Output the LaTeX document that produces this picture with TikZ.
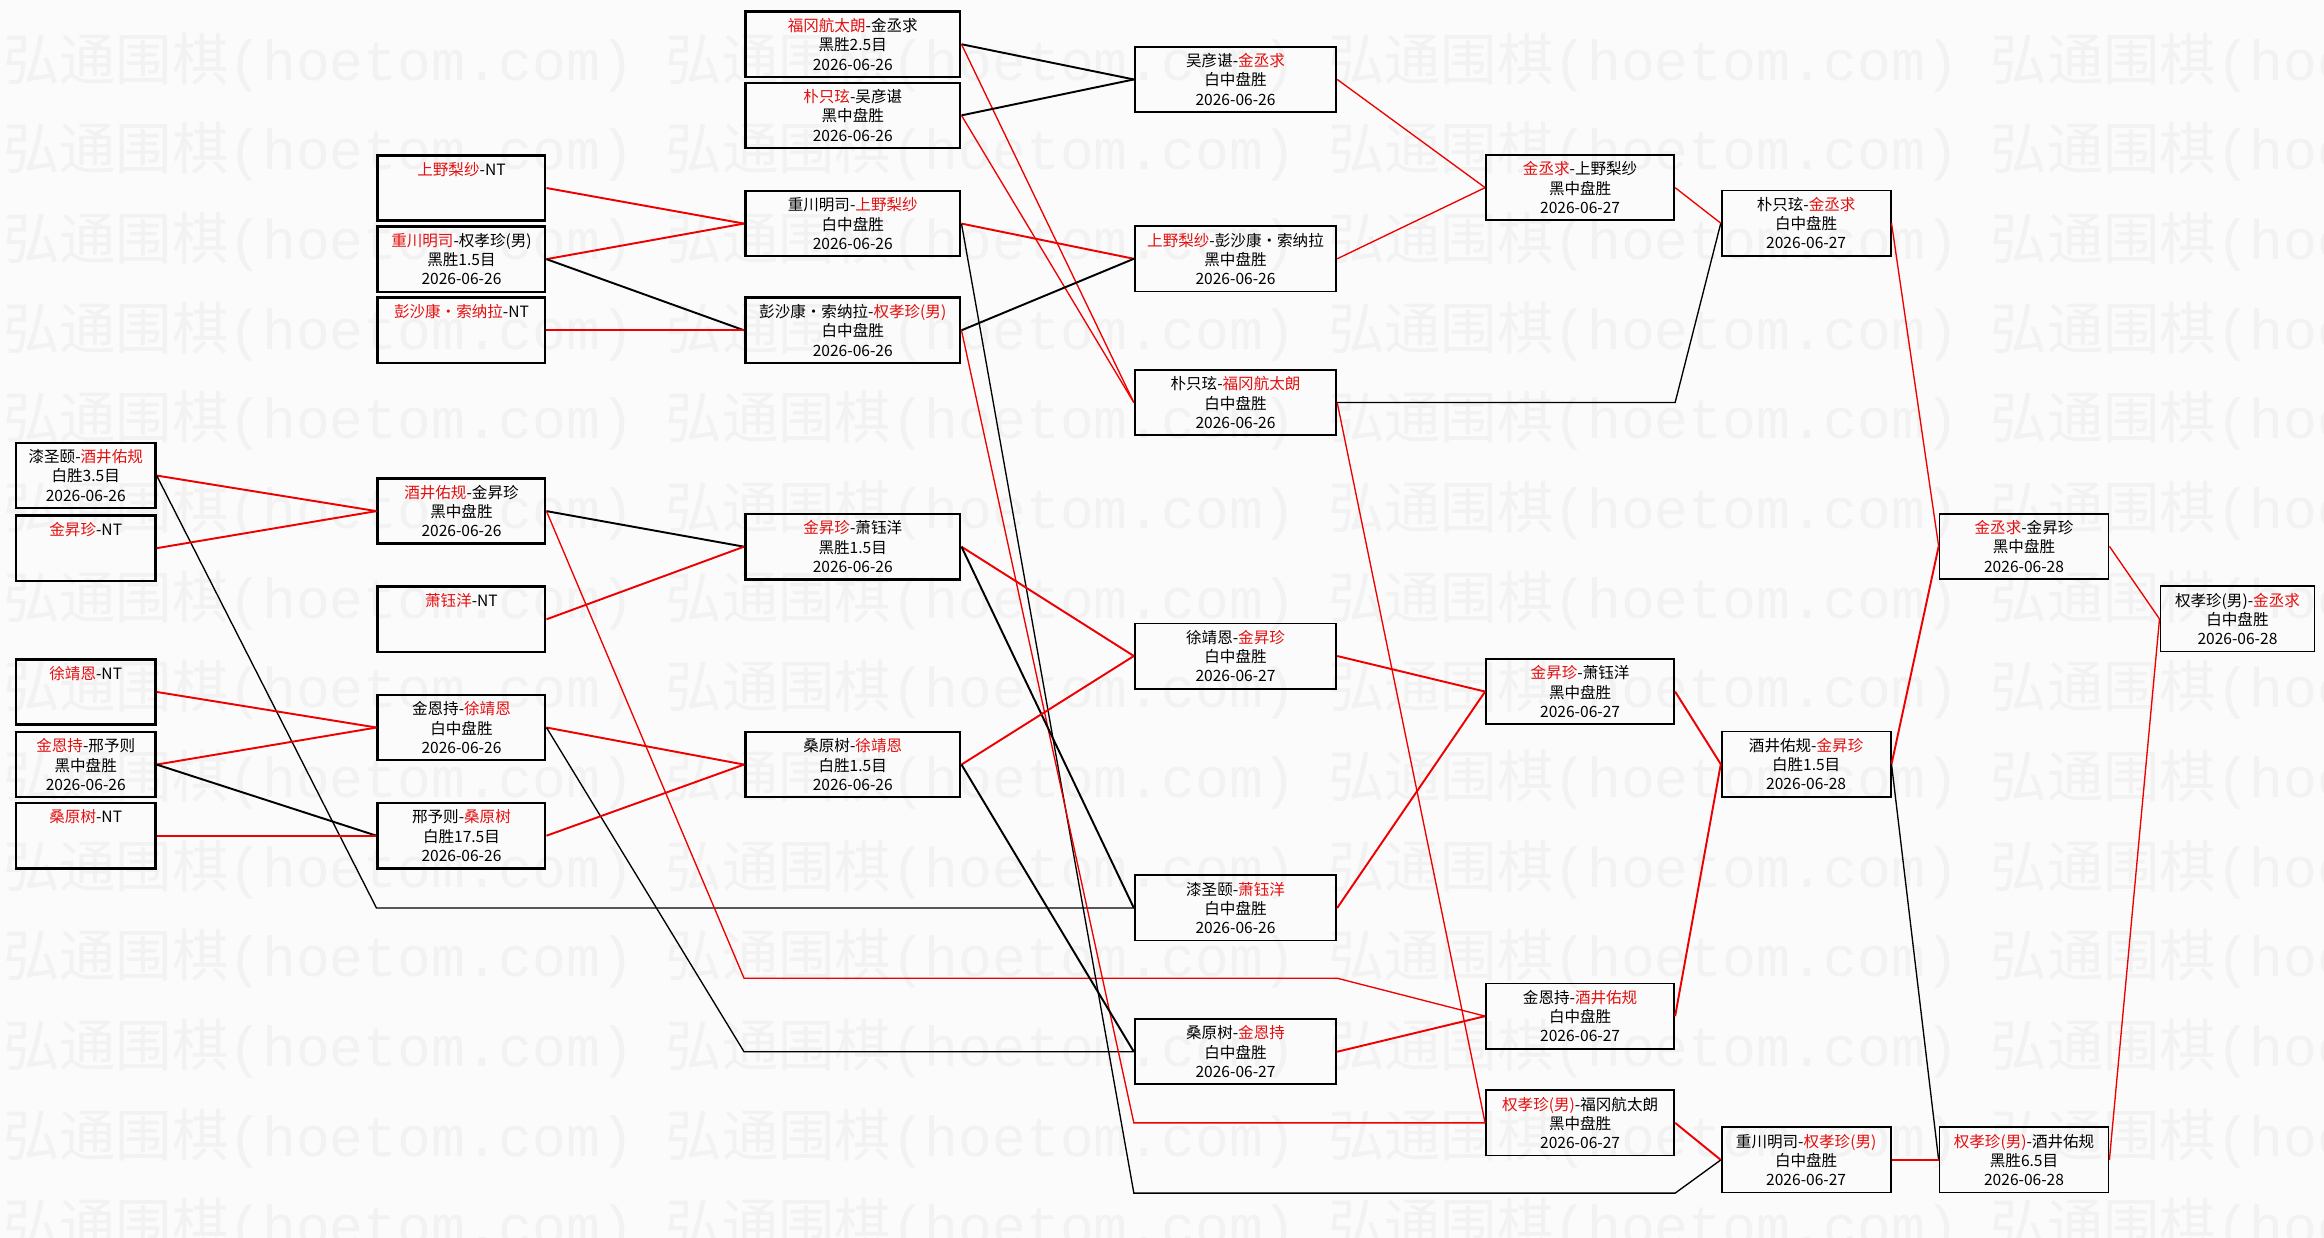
\documentclass[tikz,border=0pt]{standalone}
\usepackage{fontspec}
\setmainfont{Noto Sans CJK SC}
\setmonofont{Liberation Mono}
\usetikzlibrary{positioning, calc}
\definecolor{winnerRed}{RGB}{228, 16, 16}
\definecolor{pathRed}{RGB}{238, 0, 0}
\definecolor{markGray}{RGB}{242, 242, 242}
\definecolor{paperWhite}{RGB}{251, 251, 251}
\newcommand{\winner}[1]{\textcolor{winnerRed}{#1}}
\tikzset{
    % Base Box Style
    game/.style={
        rectangle,
        draw=black,
        line width=1.7pt,
        minimum height=44pt,
        inner sep=0pt,
        anchor=north west,
        align=center,
        font=\fontsize{10.5}{13}\selectfont
    },
    lateGame/.style={game, line width=1.2pt},
    % Column Styles
    colA/.style={game, minimum width=94pt},
    colB/.style={game, minimum width=113pt},
    colC/.style={game, minimum width=145pt},
    colD/.style={lateGame, minimum width=136pt},
    colE/.style={lateGame, minimum width=127pt},
    colF/.style={lateGame, minimum width=114pt},
    colG/.style={lateGame, minimum width=114pt},
    colH/.style={lateGame, minimum width=104pt},
    % Path & Watermark Styles
    winPath/.style={draw=pathRed, line width=1.3pt},
    losePath/.style={draw=black, line width=1.3pt},
    longPath/.style={line width=0.9pt},
    watermark/.style={font=\fontsize{38}{38}\selectfont, text=markGray, anchor=west, inner sep=0pt}
}

\begin{document}
\begin{tikzpicture}[x=1pt, y=-1pt]

    % --- Canvas ---
    \fill [paperWhite] (0,0) rectangle (1568,835);
    \useasboundingbox (0,0) rectangle (1568,835);

    % --- Watermark ---
    \begin{scope}
        \clip (0,0) rectangle (1568,835);
        \foreach \row in {0,...,13}
            \foreach \col in {0,...,3}
                \node (wm-\row-\col) [watermark] at (\col*447+2, 42+\row*60.5) {弘通围棋\texttt{(hoetom.com)}};
    \end{scope}

    % --- ROUND A (far left) ---
    \node (a1) [colA] at (10,298) {漆圣颐-\winner{酒井佑规}\\白胜3.5目\\2026-06-26};
    \node (a2) [colA] at (10,347) {\winner{金昇珍}-NT\\~\\~};
    \node (a3) [colA] at (10,444) {\winner{徐靖恩}-NT\\~\\~};
    \node (a4) [colA] at (10,493) {\winner{金恩持}-邢予则\\黑中盘胜\\2026-06-26};
    \node (a5) [colA] at (10,541) {\winner{桑原树}-NT\\~\\~};

    % --- ROUND B ---
    \node (b1) [colB] at (254,104) {\winner{上野梨纱}-NT\\~\\~};
    \node (b2) [colB] at (254,152) {\winner{重川明司}-权孝珍(男)\\黑胜1.5目\\2026-06-26};
    \node (b3) [colB] at (254,200) {\winner{彭沙康・索纳拉}-NT\\~\\~};
    \node (b4) [colB] at (254,322) {\winner{酒井佑规}-金昇珍\\黑中盘胜\\2026-06-26};
    \node (b5) [colB] at (254,395) {\winner{萧钰洋}-NT\\~\\~};
    \node (b6) [colB] at (254,468) {金恩持-\winner{徐靖恩}\\白中盘胜\\2026-06-26};
    \node (b7) [colB] at (254,541) {邢予则-\winner{桑原树}\\白胜17.5目\\2026-06-26};

    % --- ROUND C ---
    \node (c1) [colC] at (502,7) {\winner{福冈航太朗}-金丞求\\黑胜2.5目\\2026-06-26};
    \node (c2) [colC] at (502,55) {\winner{朴只玹}-吴彦谌\\黑中盘胜\\2026-06-26};
    \node (c3) [colC] at (502,128) {重川明司-\winner{上野梨纱}\\白中盘胜\\2026-06-26};
    \node (c4) [colC] at (502,200) {彭沙康・索纳拉-\winner{权孝珍(男)}\\白中盘胜\\2026-06-26};
    \node (c5) [colC] at (502,346) {\winner{金昇珍}-萧钰洋\\黑胜1.5目\\2026-06-26};
    \node (c6) [colC] at (502,493) {桑原树-\winner{徐靖恩}\\白胜1.5目\\2026-06-26};

    % --- ROUND D ---
    \node (d1) [colD] at (765,31) {吴彦谌-\winner{金丞求}\\白中盘胜\\2026-06-26};
    \node (d2) [colD] at (765,152) {\winner{上野梨纱}-彭沙康・索纳拉\\黑中盘胜\\2026-06-26};
    \node (d3) [colD] at (765,249) {朴只玹-\winner{福冈航太朗}\\白中盘胜\\2026-06-26};
    \node (d4) [colD] at (765,420) {徐靖恩-\winner{金昇珍}\\白中盘胜\\2026-06-27};
    \node (d5) [colD] at (765,590) {漆圣颐-\winner{萧钰洋}\\白中盘胜\\2026-06-26};
    \node (d6) [colD] at (765,687) {桑原树-\winner{金恩持}\\白中盘胜\\2026-06-27};

    % --- ROUND E ---
    \node (e1) [colE] at (1002,104) {\winner{金丞求}-上野梨纱\\黑中盘胜\\2026-06-27};
    \node (e2) [colE] at (1002,444) {\winner{金昇珍}-萧钰洋\\黑中盘胜\\2026-06-27};
    \node (e3) [colE] at (1002,663) {金恩持-\winner{酒井佑规}\\白中盘胜\\2026-06-27};
    \node (e4) [colE] at (1002,735) {\winner{权孝珍(男)}-福冈航太朗\\黑中盘胜\\2026-06-27};

    % --- ROUND F ---
    \node (f1) [colF] at (1161,128) {朴只玹-\winner{金丞求}\\白中盘胜\\2026-06-27};
    \node (f2) [colF] at (1161,493) {酒井佑规-\winner{金昇珍}\\白胜1.5目\\2026-06-28};
    \node (f3) [colF] at (1161,760) {重川明司-\winner{权孝珍(男)}\\白中盘胜\\2026-06-27};

    % --- ROUND G & FINAL ---
    \node (g1) [colG] at (1308,346) {\winner{金丞求}-金昇珍\\黑中盘胜\\2026-06-28};
    \node (g2) [colG] at (1308,760) {\winner{权孝珍(男)}-酒井佑规\\黑胜6.5目\\2026-06-28};
    \node (h1) [colH] at (1457,395) {权孝珍(男)-\winner{金丞求}\\白中盘胜\\2026-06-28};

    % --- Route Levels ---
    \coordinate (lowRoute) at (0,660);
    \coordinate (bottomRoute) at (0,805);

    % --- Paths A -> B ---
    \draw [winPath] (a1.east) -- (b4.west);
    \draw [losePath, longPath] (a1.east) -- (b7.west |- d5.west) -- (d5.west);
    \draw [winPath] (a2.east) -- (b4.west);
    \draw [winPath] (a3.east) -- (b6.west);
    \draw [winPath] (a4.east) -- (b6.west);
    \draw [losePath] (a4.east) -- (b7.west);
    \draw [winPath] (a5.east) -- (b7.west);

    % --- Paths B -> C ---
    \draw [winPath] (b1.east) -- (c3.west);
    \draw [winPath] (b2.east) -- (c3.west);
    \draw [losePath] (b2.east) -- (c4.west);
    \draw [winPath] (b3.east) -- (c4.west);
    \draw [losePath] (b4.east) -- (c5.west);
    \draw [winPath, longPath] (b4.east) -- (c6.west |- lowRoute) -- (d6.east |- lowRoute) -- (e3.west);
    \draw [winPath] (b5.east) -- (c5.west);
    \draw [winPath] (b6.east) -- (c6.west);
    \draw [losePath, longPath] (b6.east) -- (c6.west |- d6.west) -- (d6.west);
    \draw [winPath] (b7.east) -- (c6.west);

    % --- Paths C -> D ---
    \draw [losePath] (c1.east) -- (d1.west);
    \draw [winPath, longPath] (c1.east) -- (d3.west);
    \draw [losePath] (c2.east) -- (d1.west);
    \draw [winPath, longPath] (c2.east) -- (d3.west);
    \draw [winPath] (c3.east) -- (d2.west);
    \draw [losePath, longPath] (c3.east) -- (d6.west |- bottomRoute) -- (e4.east |- bottomRoute) -- (f3.west);
    \draw [losePath] (c4.east) -- (d2.west);
    \draw [winPath, longPath] (c4.east) -- (d6.west |- e4.west) -- (e4.west);
    \draw [winPath] (c5.east) -- (d4.west);
    \draw [losePath] (c5.east) -- (d5.west);
    \draw [winPath] (c6.east) -- (d4.west);
    \draw [losePath] (c6.east) -- (d6.west);

    % --- Paths D -> E ---
    \draw [winPath, longPath] (d1.east) -- (e1.west);
    \draw [winPath, longPath] (d2.east) -- (e1.west);
    \draw [losePath, longPath] (d3.east) -- (e1.east |- d3.east) -- (f1.west);
    \draw [winPath, longPath] (d3.east) -- (e4.west);
    \draw [winPath] (d4.east) -- (e2.west);
    \draw [winPath] (d5.east) -- (e2.west);
    \draw [winPath] (d6.east) -- (e3.west);

    % --- Paths E -> F ---
    \draw [winPath, longPath] (e1.east) -- (f1.west);
    \draw [winPath] (e2.east) -- (f2.west);
    \draw [winPath] (e3.east) -- (f2.west);
    \draw [winPath] (e4.east) -- (f3.west);

    % --- Paths F -> G -> Final ---
    \draw [winPath, longPath] (f1.east) -- (g1.west);
    \draw [winPath] (f2.east) -- (g1.west);
    \draw [losePath, longPath] (f2.east) -- (g2.west);
    \draw [winPath] (f3.east) -- (g2.west);
    \draw [winPath, longPath] (g1.east) -- (h1.west);
    \draw [winPath, longPath] (g2.east) -- (h1.west);

\end{tikzpicture}
\end{document}
